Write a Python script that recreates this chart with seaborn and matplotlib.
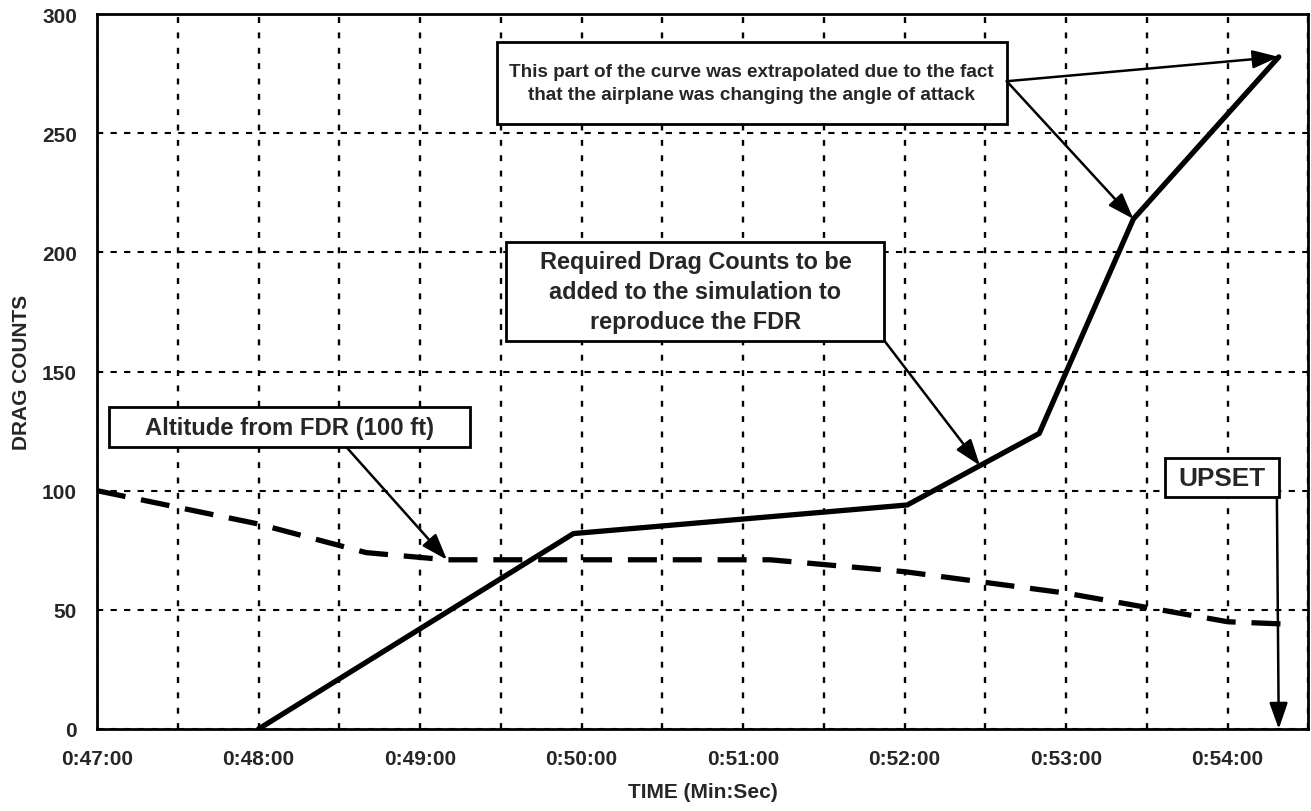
import numpy as np
import matplotlib.pyplot as plt
import matplotlib.ticker as mtick
import matplotlib.patches as mpatches
import seaborn as sns

sns.set_style('white')
plt.rcParams['font.family'] = ['Liberation Sans', 'DejaVu Sans']
plt.rcParams['font.weight'] = 'bold'
plt.rcParams['axes.labelweight'] = 'bold'

# data (time as h:mm:ss)
drag_time = ['0:48:00', '0:49:57', '0:52:01', '0:52:50', '0:53:25', '0:54:19']
drag_counts = [0, 82, 94, 124, 214, 282]

alt_time = ['0:47:00', '0:48:00', '0:48:40', '0:49:10', '0:51:10',
            '0:52:00', '0:53:00', '0:54:00', '0:54:22']
alt_100ft = [100, 86, 74, 71, 71, 66, 57, 45, 44]

upset_time = '0:54:19'
x_ticks = ['0:47:00', '0:48:00', '0:49:00', '0:50:00', '0:51:00',
           '0:52:00', '0:53:00', '0:54:00']


def to_min(t):
    h, m, s = t.split(':')
    return int(h) * 60 + int(m) + int(s) / 60


def fmt_time(v, pos):
    sec = int(round(v * 60))
    return f'0:{sec // 60:02d}:{sec % 60:02d}'


dx = np.array([to_min(t) for t in drag_time])
ax_ = np.array([to_min(t) for t in alt_time])

fig, ax = plt.subplots(figsize=(13.11, 8.12), dpi=100)
fig.subplots_adjust(left=0.074, right=0.998, top=0.9815, bottom=0.101)

sns.lineplot(x=dx, y=drag_counts, color='black', lw=3.8, ax=ax)
sns.lineplot(x=ax_, y=alt_100ft, color='black', lw=3.8, ax=ax)
ax.lines[-1].set_dashes((5.5, 3))

ax.set_xlim(47, 54.5)
ax.set_ylim(0, 300)
ax.set_xticks([to_min(t) for t in x_ticks])
ax.xaxis.set_minor_locator(mtick.MultipleLocator(0.5))
ax.yaxis.set_major_locator(mtick.MultipleLocator(50))
ax.xaxis.set_major_formatter(mtick.FuncFormatter(fmt_time))
ax.grid(which='both', axis='x', color='black', lw=1.7, ls=(0, (2.5, 4)))
ax.grid(which='major', axis='y', color='black', lw=1.5, ls=(0, (3, 3.5)))
ax.set_axisbelow(True)
ax.tick_params(axis='both', which='major', direction='inout', length=11,
               width=2, labelsize=15, pad=9, color='black')
ax.tick_params(axis='x', which='minor', length=0)
for lab in ax.get_xticklabels() + ax.get_yticklabels():
    lab.set_fontweight('bold')
for sp in ax.spines.values():
    sp.set_color('black')
    sp.set_linewidth(2)

ax.set_xlabel('TIME (Min:Sec)', fontsize=15, fontweight='bold', labelpad=10)
ax.set_ylabel('DRAG COUNTS', fontsize=15, fontweight='bold', labelpad=8)


def box(x0, y0, x1, y1, text, size):
    ax.add_patch(mpatches.Rectangle((x0, y0), x1 - x0, y1 - y0, transform=ax.transAxes,
                                    facecolor='white', edgecolor='black', lw=2, zorder=5))
    ax.text((x0 + x1) / 2, (y0 + y1) / 2, text, transform=ax.transAxes, ha='center',
            va='center', fontsize=size, fontweight='bold', zorder=6, linespacing=1.4)


def arrow(xy, start):
    ax.annotate('', xy=xy, xycoords='data', xytext=start, textcoords='axes fraction',
                arrowprops=dict(arrowstyle='-|>,head_length=0.8,head_width=0.28',
                                color='black', lw=1.8, mutation_scale=20,
                                shrinkA=0, shrinkB=0), zorder=7)


box(0.330, 0.846, 0.751, 0.961,
    'This part of the curve was extrapolated due to the fact\n'
    'that the airplane was changing the angle of attack', 13.6)
arrow((dx[5], drag_counts[5]), (0.751, 0.906))
arrow((dx[4], drag_counts[4]), (0.751, 0.906))

box(0.338, 0.543, 0.650, 0.681,
    'Required Drag Counts to be\nadded to the simulation to\nreproduce the FDR', 16.9)
t_req = to_min('0:52:28')
arrow((t_req, np.interp(t_req, dx, drag_counts)), (0.650, 0.543))

box(0.0099, 0.394, 0.308, 0.450, 'Altitude from FDR (100 ft)', 17.2)
arrow((ax_[3], alt_100ft[3]), (0.206, 0.394))

box(0.882, 0.324, 0.976, 0.379, 'UPSET', 18.8)
arrow((to_min(upset_time), 0), (0.974, 0.324))

fig.savefig('out.png', dpi=100)
